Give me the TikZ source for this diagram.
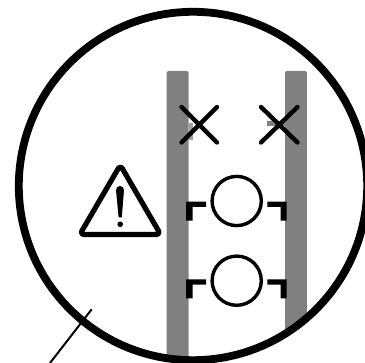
\documentclass[tikz,border=0pt]{standalone}
\definecolor{barg}{HTML}{808080}
\tikzset{
  barshape/.style={fill=barg,draw=none,rounded corners=1.5pt},
  crossline/.style={line width=4.4pt,line cap=round},
  ringline/.style={line width=3.4pt,draw=black},
  bracketfill/.style={fill=black,draw=none},
}
\begin{document}
\begin{tikzpicture}[x=1pt,y=-1pt]
\useasboundingbox (0,0) rectangle (365,363);
\begin{scope}
\clip (193,186) circle[radius=175];
\fill[barshape] (166.7,71) rectangle (188.7,380);
\fill[barshape] (285,71) rectangle (306.8,380);
\end{scope}
\fill[barg!75] (188.7,123) rectangle (192.7,140);
\fill[barg] (267,120.7) rectangle (285,126.5);
\fill[white] (281,127) rectangle (285,140);
\clip (0,0) rectangle (365,363);
\draw[line width=7.8pt] (193,186) circle[radius=174.2];
\draw[line width=2pt] (91.7,309.3) -- (50,363);
\draw[crossline] (181.5,107) -- (217,142.5) (217,107) -- (181.5,142.5);
\draw[crossline] (261,107) -- (297.5,142.5) (297.5,107) -- (261,142.5);
\draw[ringline] (236.7,201) circle[radius=24.6];
\draw[ringline] (236.7,280.7) circle[radius=24.6];
\fill[bracketfill] (186,220.7) -- (186,201.7) -- (206,201.7) -- (206,207) -- (192.5,207) -- (192.5,220.7) -- cycle;
\fill[bracketfill] (286.7,220.7) -- (286.7,201.7) -- (267.3,201.7) -- (267.3,207) -- (280.7,207) -- (280.7,220.7) -- cycle;
\fill[bracketfill] (186,298.3) -- (186,279.3) -- (206,279.3) -- (206,284.6) -- (192.5,284.6) -- (192.5,298.3) -- cycle;
\fill[bracketfill] (286.7,298.3) -- (286.7,279.3) -- (267.3,279.3) -- (267.3,284.6) -- (280.7,284.6) -- (280.7,298.3) -- cycle;
\draw[line width=5.2pt,line join=round,rounded corners=4pt] (120.3,165) -- (79.8,234.5) -- (160.6,234.5) -- cycle;
\fill (116,190) arc[start angle=-180,end angle=0,radius=4] -- (121.8,217.3) -- (118.6,217.3) -- cycle;
\fill (120.2,224.3) circle[radius=2.8];
\end{tikzpicture}
\end{document}
